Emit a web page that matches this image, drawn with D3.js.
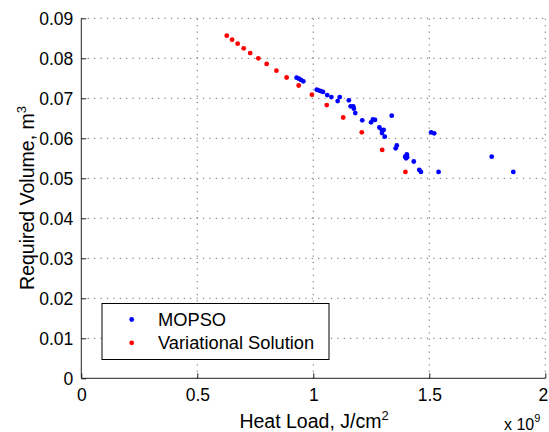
<!DOCTYPE html>
<html>
<head>
<meta charset="utf-8">
<script src="https://cdn.jsdelivr.net/npm/d3@7"></script>
<style>
  html, body { margin: 0; padding: 0; background: #fff; }
  svg { display: block; font-family: "Liberation Sans", Arial, Helvetica, sans-serif; }
</style>
</head>
<body>
<svg id="chart" width="549" height="432"></svg>
<script>
// Heat load values are in units of 1e9 J/cm^2 (axis multiplier "x 10^9")
const mopsoX = [0.928,0.938,0.947,0.957,1.015,1.023,1.032,1.042,1.060,1.078,1.105,1.114,1.153,1.161,1.172,1.175,1.181,1.211,1.249,1.257,1.266,1.285,1.296,1.303,1.296,1.308,1.338,1.355,1.360,1.396,1.403,1.405,1.400,1.433,1.457,1.464,1.508,1.521,1.540,1.769,1.862];
const mopsoY = [0.07515,0.0749,0.0746,0.07425,0.07215,0.0720,0.0718,0.0716,0.0708,0.0703,0.0693,0.0703,0.0695,0.0680,0.0680,0.0674,0.0663,0.0645,0.0640,0.0647,0.0646,0.0627,0.0620,0.0621,0.0613,0.0604,0.06565,0.0575,0.0582,0.0554,0.0560,0.0553,0.0550,0.0542,0.0521,0.0516,0.0615,0.06125,0.0516,0.0554,0.0516];
const varX = [0.627,0.650,0.674,0.700,0.728,0.763,0.799,0.841,0.885,0.937,0.994,1.058,1.129,1.209,1.297,1.397];
const varY = [0.08565,0.08465,0.08365,0.0825,0.0813,0.0800,0.0786,0.0769,0.0752,0.0732,0.0709,0.0683,0.0652,0.0615,0.0571,0.0516];
const xTicks = [0, 0.5, 1, 1.5, 2];
const xTickLabels = ["0", "0.5", "1", "1.5", "2"];
const yTicks = [0, 0.01, 0.02, 0.03, 0.04, 0.05, 0.06, 0.07, 0.08, 0.09];
const yTickLabels = ["0", "0.01", "0.02", "0.03", "0.04", "0.05", "0.06", "0.07", "0.08", "0.09"];
const seriesNames = ["MOPSO", "Variational Solution"];
const seriesColors = ["#0000ff", "#ff0000"];

const svg = d3.select("#chart");
const L = 81.3, R = 545.3, T = 18.3, B = 378.3;
const x = d3.scaleLinear().domain([0, 2]).range([L, R]);
const y = d3.scaleLinear().domain([0, 0.09]).range([B, T]);

// grid
const grid = svg.append("g");
grid.selectAll("line.gx").data(xTicks.filter(d => d > 0)).enter().append("line")
  .attr("x1", d => x(d)).attr("x2", d => x(d)).attr("y1", B).attr("y2", T)
  .attr("stroke", "#666").attr("stroke-width", 1).attr("stroke-dasharray", "1.2,5.2");
grid.selectAll("line.gy").data(yTicks.filter(d => d > 0)).enter().append("line")
  .attr("x1", L).attr("x2", R).attr("y1", d => y(d)).attr("y2", d => y(d))
  .attr("stroke", "#666").attr("stroke-width", 1).attr("stroke-dasharray", "1.2,5.2");

// axes
const xAxis = d3.axisBottom(x).tickValues(xTicks).tickFormat((d, i) => xTickLabels[i]).tickSize(-5).tickPadding(10);
const yAxis = d3.axisLeft(y).tickValues(yTicks).tickFormat((d, i) => yTickLabels[i]).tickSize(-5).tickPadding(8);
const gx = svg.append("g").attr("transform", `translate(0,${B})`).call(xAxis);
const gy = svg.append("g").attr("transform", `translate(${L},0)`).call(yAxis);
[gx, gy].forEach(g => {
  g.select(".domain").attr("stroke", "#222").attr("stroke-width", 1);
  g.selectAll(".tick line").attr("stroke", "#222");
  g.selectAll(".tick text").attr("fill", "#000").attr("font-size", "17.5px")
    .attr("font-family", "'Liberation Sans', Arial, sans-serif");
});
gy.select(".domain").attr("d", `M0,${B}V${T}`);
gx.select(".domain").attr("d", `M${L},0H${R}`);
gx.selectAll(".tick text").attr("dy", "0.71em").attr("dx", d => d === 2 ? -2.5 : 0);
gy.selectAll(".tick text").attr("dy", "0.35em");

// points
svg.append("g").selectAll("circle").data(d3.range(mopsoX.length)).enter().append("circle")
  .attr("cx", i => x(mopsoX[i])).attr("cy", i => y(mopsoY[i])).attr("r", 2.4).attr("fill", seriesColors[0]);
svg.append("g").selectAll("circle").data(d3.range(varX.length)).enter().append("circle")
  .attr("cx", i => x(varX[i])).attr("cy", i => y(varY[i])).attr("r", 2.4).attr("fill", seriesColors[1]);

// labels
const xl = svg.append("text").attr("x", 314).attr("y", 428).attr("text-anchor", "middle")
  .attr("font-size", "19.5px").attr("fill", "#000");
xl.append("tspan").text("Heat Load, J/cm");
xl.append("tspan").attr("font-size", "13px").attr("dy", "-8").text("2");

const yl = svg.append("text").attr("transform", "translate(34,198) rotate(-90)").attr("text-anchor", "middle")
  .attr("font-size", "19.5px").attr("fill", "#000");
yl.append("tspan").text("Required Volume, m");
yl.append("tspan").attr("font-size", "13px").attr("dy", "-8").text("3");

const mul = svg.append("text").attr("x", 504).attr("y", 430).attr("font-size", "16px").attr("fill", "#000");
mul.append("tspan").text("x 10");
mul.append("tspan").attr("font-size", "11px").attr("dy", "-8").text("9");

// legend
const lg = svg.append("g");
lg.append("rect").attr("x", 102).attr("y", 303.5).attr("width", 227).attr("height", 56)
  .attr("fill", "#fff").attr("stroke", "#000").attr("stroke-width", 1);
seriesNames.forEach((name, i) => {
  const cy = 319.5 + i * 23.3;
  lg.append("circle").attr("cx", 131.7).attr("cy", cy).attr("r", 2.4).attr("fill", seriesColors[i]);
  lg.append("text").attr("x", 158).attr("y", cy + 6.3).attr("font-size", "18.3px").attr("fill", "#000").text(name);
});
</script>
</body>
</html>
